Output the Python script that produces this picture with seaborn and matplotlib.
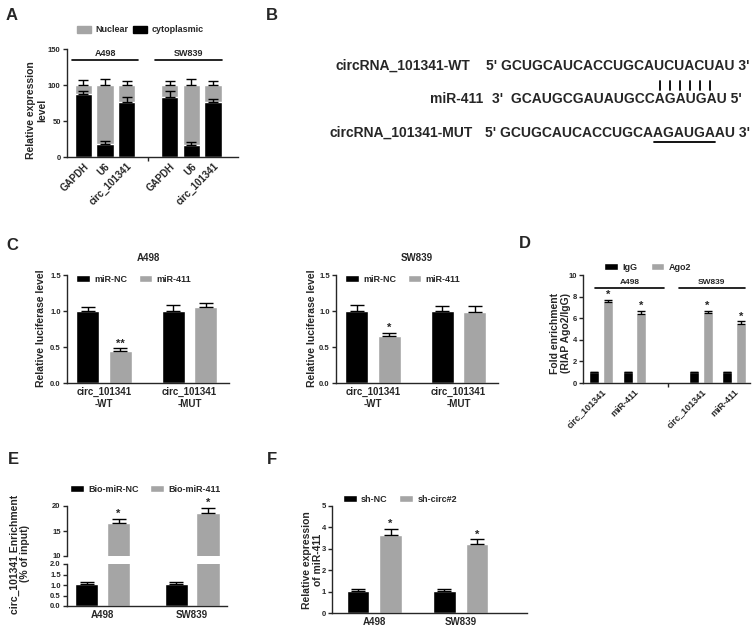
import numpy as np
import pandas as pd
import matplotlib.pyplot as plt
import seaborn as sns
from matplotlib.patches import Patch

# ---- Datos
# A: fraccionamiento nuclear / citoplasmatico (%)
a_genes = ['GAPDH', 'U6', 'circ_101341', 'GAPDH', 'U6', 'circ_101341']
a_cells = ['A498', 'A498', 'A498', 'SW839', 'SW839', 'SW839']
a_cyto = [87, 18, 77, 83, 16, 76]
a_cyto_err = [5, 4, 6, 8, 5, 5]
a_nuclear = [13, 82, 23, 17, 84, 24]
a_total_err = [7, 8, 5, 6, 8, 6]

# B: secuencias
b_wt_label = 'circRNA_101341-WT'
b_wt_seq = "5' GCUGCAUCACCUGCAUCUACUAU 3'"
b_mir_label = 'miR-411'
b_mir_seq = "3'  GCAUGCGAUAUGCCAGAUGAU 5'"
b_mut_label = 'circRNA_101341-MUT'
b_mut_seq = "5' GCUGCAUCACCUGCAAGAUGAAU 3'"

# C: luciferasa
c_groups = ['circ_101341\n-WT', 'circ_101341\n-MUT']
c_hues = ['miR-NC', 'miR-411']
c_a498_nc = [1.00, 1.00]
c_a498_nc_err = [0.06, 0.09]
c_a498_mir = [0.44, 1.06]
c_a498_mir_err = [0.04, 0.05]
c_a498_stars = ['**', '']
c_sw839_nc = [1.00, 1.00]
c_sw839_nc_err = [0.08, 0.07]
c_sw839_mir = [0.65, 0.98]
c_sw839_mir_err = [0.05, 0.09]
c_sw839_stars = ['*', '']

# D: RIP Ago2
d_groups = ['A498 circ_101341', 'A498 miR-411', 'SW839 circ_101341', 'SW839 miR-411']
d_ticks = ['circ_101341', 'miR-411', 'circ_101341', 'miR-411']
d_hues = ['IgG', 'Ago2']
d_igg = [1.0, 1.0, 1.0, 1.0]
d_igg_err = [0.05, 0.05, 0.05, 0.05]
d_ago2 = [7.5, 6.4, 6.5, 5.5]
d_ago2_err = [0.2, 0.25, 0.2, 0.2]
d_stars = ['*', '*', '*', '*']

# E: pull-down biotina
e_cells = ['A498', 'SW839']
e_hues = ['Bio-miR-NC', 'Bio-miR-411']
e_nc = [1.03, 1.03]
e_nc_err = [0.10, 0.12]
e_mir = [16.6, 18.7]
e_mir_err = [0.8, 1.0]
e_stars = ['*', '*']

# F: expresion miR-411
f_cells = ['A498', 'SW839']
f_hues = ['sh-NC', 'sh-circ#2']
f_nc = [1.03, 1.03]
f_nc_err = [0.10, 0.08]
f_circ = [3.63, 3.22]
f_circ_err = [0.28, 0.22]
f_stars = ['*', '*']

GRAY = '#a5a5a5'
W, H = 753, 630

sns.set_style('ticks')
plt.rcParams['font.family'] = ['Liberation Sans', 'DejaVu Sans']
plt.rcParams['font.weight'] = 'bold'
plt.rcParams['axes.labelweight'] = 'bold'
plt.rcParams['axes.titleweight'] = 'bold'

fig = plt.figure(figsize=(W / 100, H / 100), dpi=100)


def px_axes(l, t, r, b):
    return fig.add_axes([l / W, 1 - b / H, (r - l) / W, (b - t) / H])


def style(ax):
    sns.despine(ax=ax)
    for s in ['left', 'bottom']:
        ax.spines[s].set_linewidth(1.0)
    ax.tick_params(axis='y', width=1.0, length=3, labelsize=5.5, pad=1.5)
    ax.tick_params(axis='x', length=0, labelsize=7, pad=3)
    ax.set_xlabel('')
    ax.set_ylabel('')


def grouped(ax, keys, order, hues, means, errs, width, gap, cap=5):
    rows = []
    for h, m in zip(hues, means):
        for k, v in zip(keys, m):
            rows.append((k, h, v))
    df = pd.DataFrame(rows, columns=['key', 'hue', 'val'])
    sns.barplot(data=df, x='key', y='val', hue='hue', order=order, hue_order=hues,
                palette=['black', GRAY], width=width, gap=gap, saturation=1,
                errorbar=None, ax=ax)
    centers = []
    for cont, err in zip(ax.containers, errs):
        ps = [p for p in cont if not np.isnan(p.get_height())]
        xs = [p.get_x() + p.get_width() / 2 for p in ps]
        ys = [p.get_height() for p in ps]
        ax.errorbar(xs, ys, yerr=[np.zeros(len(err)), err], fmt='none', ecolor='black',
                    elinewidth=1.0, capsize=cap, capthick=1.0)
        centers.append(xs)
    return centers


def stars(ax, xs, means, errs, marks, size=8):
    for x, m, e, s in zip(xs, means, errs, marks):
        if s:
            ax.text(x, m + e, s, ha='center', va='bottom', fontsize=size)


def legend(ax, x, y, spacing=1.0):
    sns.move_legend(ax, 'center left', bbox_to_anchor=(x / W, 1 - y / H),
                    bbox_transform=fig.transFigure, ncol=2, title=None, frameon=False,
                    fontsize=6.5, handlelength=1.5, handleheight=0.75, handletextpad=0.5,
                    columnspacing=spacing, borderpad=0, borderaxespad=0)


def ylab(ax, text, x, y):
    ax.set_ylabel(text, fontsize=7.5, linespacing=1.1)
    ax.yaxis.set_label_coords(x / W, 1 - y / H, transform=fig.transFigure)


# ---- Panel A
ax = px_axes(67, 49, 238, 157)
a_keys = [c + ' ' + g for c, g in zip(a_cells, a_genes)]
a_order = a_keys[:3] + [''] + a_keys[3:]
df_a = pd.DataFrame({'key': a_keys, 'cyto': a_cyto,
                     'total': np.add(a_cyto, a_nuclear)})
sns.barplot(data=df_a, x='key', y='total', order=a_order, color=GRAY, saturation=1,
            width=0.8, errorbar=None, ax=ax)
sns.barplot(data=df_a, x='key', y='cyto', order=a_order, color='black', saturation=1,
            width=0.8, errorbar=None, ax=ax)
for cont, err in zip(ax.containers, [a_total_err, a_cyto_err]):
    ps = [p for p in cont if not np.isnan(p.get_height())]
    xs = [p.get_x() + p.get_width() / 2 for p in ps]
    ys = [p.get_height() for p in ps]
    ax.errorbar(xs, ys, yerr=[np.zeros(len(err)), err], fmt='none', ecolor='black',
                elinewidth=1.0, capsize=3.5, capthick=1.0)
style(ax)
ax.set_ylim(0, 150)
ax.set_yticks([0, 50, 100, 150])
ax.set_xlim(-0.75, 7.15)
ticks = [i for i, k in enumerate(a_order) if k]
ax.set_xticks(ticks, labels=a_genes, rotation=45, ha='right', rotation_mode='anchor')
ax.set_xticks([3], minor=True)
ax.tick_params(axis='x', which='minor', length=3, width=1.0)
for lo, hi, name in [(-0.5, 2.55, 'A498'), (3.3, 6.4, 'SW839')]:
    ax.plot([lo, hi], [135, 135], color='black', lw=1.2, clip_on=False)
    ax.text((lo + hi) / 2, 138, name, ha='center', va='bottom', fontsize=6.5)
ylab(ax, 'Relative expression\nlevel', 47, 110)
ax.legend([Patch(color=GRAY), Patch(color='black')], ['Nuclear', 'cytoplasmic'],
          loc='center left', bbox_to_anchor=(77 / W, 1 - 30 / H), bbox_transform=fig.transFigure,
          ncol=2, frameon=False, fontsize=6.5, handlelength=1.5, handleheight=0.75,
          handletextpad=0.5, columnspacing=0.6, borderpad=0, borderaxespad=0)

# ---- Panel B
rend = fig.canvas.get_renderer()
bkw = dict(fontsize=10, fontweight='bold', va='center', ha='left')


def text_w(s):
    t = fig.text(0, 0, s, **bkw)
    w = t.get_window_extent(renderer=rend).width
    t.remove()
    return w


def char_center(s, i):
    return text_w(s[:i + 1]) - text_w(s[i]) / 2


y_wt, y_mir, y_mut = 66, 99, 133
x_wt = 750 - text_w(b_wt_seq)
x_mut = 750 - text_w(b_mut_seq)
fig.text(x_wt / W, 1 - y_wt / H, b_wt_seq, **bkw)
fig.text(336 / W, 1 - y_wt / H, b_wt_label, **bkw)
fig.text(x_mut / W, 1 - y_mut / H, b_mut_seq, **bkw)
fig.text(329 / W, 1 - y_mut / H, b_mut_label, **bkw)
x_mir = x_wt + char_center(b_wt_seq, 18) - char_center(b_mir_seq, 18)
fig.text(x_mir / W, 1 - y_mir / H, b_mir_seq, **bkw)
fig.text((x_mir - 9) / W, 1 - y_mir / H, b_mir_label, **dict(bkw, ha='right'))
for i in range(18, 24):
    xc = x_wt + char_center(b_wt_seq, i)
    fig.add_artist(plt.Line2D([xc / W, xc / W], [1 - 81 / H, 1 - 90 / H], color='black', lw=1.3))
u0 = x_mut + text_w(b_mut_seq[:18]) + 1
u1 = x_mut + text_w(b_mut_seq[:24])
fig.add_artist(plt.Line2D([u0 / W, u1 / W], [1 - 142 / H, 1 - 142 / H], color='black', lw=1.3))

# ---- Panel C
for left, title, nc, nce, mir, mire, st, lx in [
        (67, 'A498', c_a498_nc, c_a498_nc_err, c_a498_mir, c_a498_mir_err, c_a498_stars, 46),
        (336, 'SW839', c_sw839_nc, c_sw839_nc_err, c_sw839_mir, c_sw839_mir_err, c_sw839_stars, 317)]:
    ax = px_axes(left, 275, left + 162, 383)
    cx = grouped(ax, c_groups, c_groups, c_hues, [nc, mir], [nce, mire], 0.76, 0.29)
    stars(ax, cx[1], mir, mire, st)
    style(ax)
    ax.set_ylim(0, 1.5)
    ax.set_yticks([0, 0.5, 1.0, 1.5], labels=['0.0', '0.5', '1.0', '1.5'])
    ax.set_xlim(-0.43, 1.46)
    ax.set_title(title, fontsize=7, pad=10)
    ylab(ax, 'Relative luciferase level', lx, 328)
    legend(ax, left + 9, 279, spacing=1.3)

# ---- Panel D
ax = px_axes(583, 275, 750, 383)
d_order = d_groups[:2] + [''] + d_groups[2:]
dx = grouped(ax, d_groups, d_order, d_hues, [d_igg, d_ago2], [d_igg_err, d_ago2_err],
             0.82, 0.27, cap=2.8)
stars(ax, dx[1], d_ago2, d_ago2_err, d_stars)
style(ax)
ax.set_ylim(0, 10)
ax.set_yticks([0, 2, 4, 6, 8, 10])
ax.set_xlim(-0.55, 4.48)
ticks = [i for i, k in enumerate(d_order) if k]
ax.set_xticks(ticks, labels=d_ticks, rotation=45, ha='right', rotation_mode='anchor')
ax.set_xticks([2], minor=True)
ax.tick_params(axis='x', which='minor', length=3, width=1.0)
ax.tick_params(axis='x', labelsize=6.5)
for lo, hi, name in [(-0.18, 1.88, 'A498'), (2.33, 4.33, 'SW839')]:
    ax.plot([lo, hi], [8.8, 8.8], color='black', lw=1.2, clip_on=False)
    ax.text((lo + hi) / 2, 9.0, name, ha='center', va='bottom', fontsize=6)
ylab(ax, 'Fold enrichment\n(RIAP Ago2/IgG)', 571, 333)
legend(ax, 604, 267, spacing=1.5)

# ---- Panel E (eje partido)
ax_top = px_axes(67, 506, 227, 556)
ax_bot = px_axes(67, 564, 227, 606)
for a in [ax_top, ax_bot]:
    ex = grouped(a, e_cells, e_cells, e_hues, [e_nc, e_mir], [e_nc_err, e_mir_err], 0.71, 0.27)
    style(a)
    a.set_xlim(-0.40, 1.39)
stars(ax_top, ex[1], e_mir, e_mir_err, e_stars)
ax_top.set_ylim(10, 20)
ax_top.set_yticks([10, 15, 20])
ax_top.spines['bottom'].set_visible(False)
ax_top.set_xticks([])
ax_bot.set_ylim(0, 2)
ax_bot.set_yticks([0, 0.5, 1.0, 1.5, 2.0], labels=['0.0', '0.5', '1.0', '1.5', '2.0'])
ax_bot.get_legend().remove()
fig.text(20 / W, 1 - 554 / H, 'circ_101341 Enrichment\n(% of input)', rotation=90,
         ha='center', va='center', fontsize=7.5, linespacing=1.1)
legend(ax_top, 70, 489, spacing=1.3)

# ---- Panel F
ax = px_axes(332, 506, 527, 613)
fx = grouped(ax, f_cells, f_cells, f_hues, [f_nc, f_circ], [f_nc_err, f_circ_err], 0.756, 0.31)
stars(ax, fx[1], f_circ, f_circ_err, f_stars)
style(ax)
ax.set_ylim(0, 5)
ax.set_yticks([0, 1, 2, 3, 4, 5])
ax.set_xlim(-0.49, 1.77)
ylab(ax, 'Relative expression\nof miR-411', 323, 560)
legend(ax, 343, 499, spacing=1.3)

# ---- Letras de panel
for letter, x, y in [('A', 12, 16), ('B', 272, 15), ('C', 12, 246), ('D', 525, 243),
                     ('E', 13, 460), ('F', 272, 460)]:
    fig.text(x / W, 1 - y / H, letter, fontsize=12, fontweight='bold', ha='center', va='center')

fig.savefig('out.png', dpi=100)
plt.close()
